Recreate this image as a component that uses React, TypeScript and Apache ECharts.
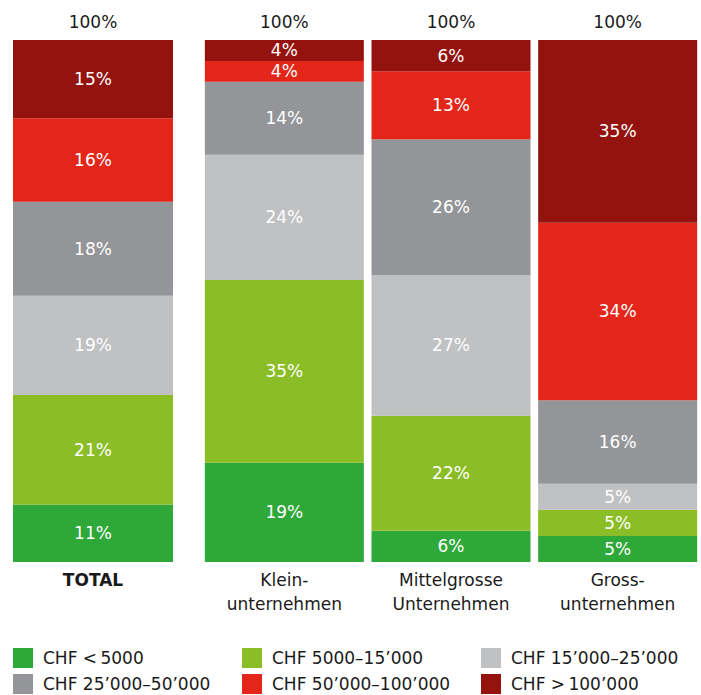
import React, { useEffect, useRef } from "react";
import * as echarts from "echarts";

const categories = ["TOTAL", "Klein-\nunternehmen", "Mittelgrosse\nUnternehmen", "Gross-\nunternehmen"];
const totalLabels = ["100%", "100%", "100%", "100%"];
const seriesNames = [
  "CHF <\u20095000",
  "CHF 5000–15’000",
  "CHF 15’000–25’000",
  "CHF 25’000–50’000",
  "CHF 50’000–100’000",
  "CHF >\u2009100’000",
];
const seriesColors = ["#2ea838", "#8bbd26", "#c0c1c3", "#939598", "#e32619", "#95130f"];
// values per series for [TOTAL, Klein, Mittel, Gross]
const under5000 = [11, 19, 6, 5];
const from5000to15000 = [21, 35, 22, 5];
const from15000to25000 = [19, 24, 27, 5];
const from25000to50000 = [18, 14, 26, 16];
const from50000to100000 = [16, 4, 13, 34];
const over100000 = [15, 4, 6, 35];
const seriesValues = [under5000, from5000to15000, from15000to25000, from25000to50000, from50000to100000, over100000];

const FONT = "DejaVu Sans";
const FS = 17;

export default function App() {
  const ref = useRef<HTMLDivElement>(null);
  useEffect(() => {
    if (!ref.current) return;
    const chart = echarts.init(ref.current, null, { renderer: "svg" });
    const series: any[] = [];
    seriesNames.forEach((name, i) => {
      const common = {
        name,
        type: "bar",
        itemStyle: { color: seriesColors[i] },
        label: {
          show: true,
          position: "inside",
          color: "#ffffff",
          fontFamily: FONT,
          fontSize: FS,
          formatter: "{c}%",
        },
      };
      series.push({ ...common, xAxisIndex: 0, yAxisIndex: 0, stack: "a", barWidth: 160, data: [seriesValues[i][0]] });
      series.push({ ...common, xAxisIndex: 1, yAxisIndex: 1, stack: "b", barWidth: 159, data: seriesValues[i].slice(1) });
    });
    const legendPos = [
      [13, 648],
      [242, 648],
      [481, 648],
      [13, 674],
      [242, 674],
      [481, 674],
    ];
    const legends = seriesNames.map((name, i) => ({
      data: [name],
      left: legendPos[i][0],
      top: legendPos[i][1],
      padding: 0,
      icon: "rect",
      itemWidth: 20,
      itemHeight: 20,
      textStyle: { fontFamily: FONT, fontSize: FS, color: "#1a1a1a", padding: [0, 0, 0, 5] },
    }));
    const catLabel = (isTotal: boolean) => ({
      fontFamily: FONT,
      fontSize: FS,
      color: "#1a1a1a",
      lineHeight: 24,
      margin: 6,
      fontWeight: isTotal ? "bold" : "normal",
      interval: 0,
    });
    chart.setOption({
      animation: false,
      legend: legends,
      grid: [
        { left: 13, width: 160, top: 40, height: 522 },
        { left: 201, width: 501, top: 40, height: 522 },
      ],
      xAxis: [
        { type: "category", gridIndex: 0, data: categories.slice(0, 1), axisLine: { show: false }, axisTick: { show: false }, axisLabel: catLabel(true) },
        { type: "category", gridIndex: 1, data: categories.slice(1), axisLine: { show: false }, axisTick: { show: false }, axisLabel: catLabel(false) },
        { type: "category", gridIndex: 0, position: "top", data: totalLabels.slice(0, 1), axisLine: { show: false }, axisTick: { show: false }, axisLabel: { fontFamily: FONT, fontSize: FS, color: "#1a1a1a", margin: 10 } },
        { type: "category", gridIndex: 1, position: "top", data: totalLabels.slice(1), axisLine: { show: false }, axisTick: { show: false }, axisLabel: { fontFamily: FONT, fontSize: FS, color: "#1a1a1a", margin: 10, interval: 0 } },
      ],
      yAxis: [
        { type: "value", gridIndex: 0, min: 0, max: 100, show: false },
        { type: "value", gridIndex: 1, min: 0, max: 100, show: false },
      ],
      series,
    });
    return () => chart.dispose();
  }, []);
  return <div ref={ref} style={{ position: "absolute", left: 0, top: 0, width: 701, height: 695 }} />;
}
